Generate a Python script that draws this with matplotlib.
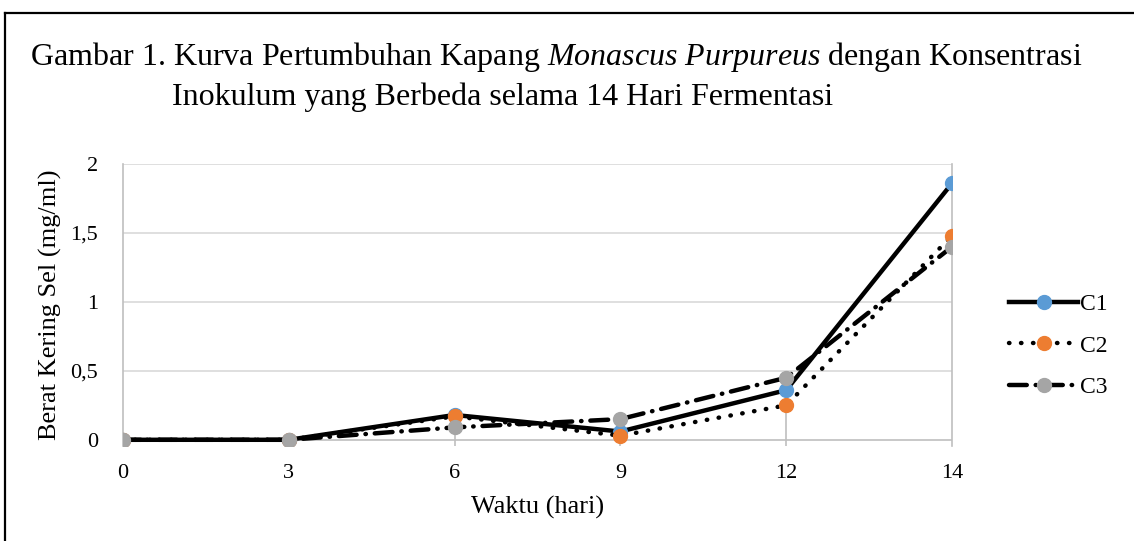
import numpy as np
import matplotlib
matplotlib.use("Agg")
import matplotlib.pyplot as plt
from matplotlib.lines import Line2D

plt.rcParams['font.family'] = ['Liberation Serif', 'DejaVu Serif']
plt.rcParams['mathtext.fontset'] = 'custom'
plt.rcParams['mathtext.rm'] = 'Liberation Serif'
plt.rcParams['mathtext.it'] = 'Liberation Serif:italic'

days = ['0', '3', '6', '9', '12', '14']
c1 = [0, 0, 0.18, 0.06, 0.36, 1.86]
c2 = [0, 0, 0.17, 0.03, 0.25, 1.48]
c3 = [0, 0, 0.09, 0.15, 0.45, 1.40]
yticks = [0, 0.5, 1, 1.5, 2]
ytick_labels = ['0', '0,5', '1', '1,5', '2']

W, H = 1134, 541
fig = plt.figure(figsize=(W / 100, H / 100), dpi=100)
ax = fig.add_axes([123 / W, 1 - 446 / H, (952 - 123) / W, (446 - 164) / H])

x = np.arange(len(days))
ymin = -0.045

# grid and drop lines
for v in yticks:
    ax.axhline(v, color='#BFBFBF' if v == 0 else '#D9D9D9', lw=1.2, zorder=0)
tops = np.max([c1, c2, c3], axis=0)
for xi, t in zip(x[1:-1], tops[1:-1]):
    if t > 0:
        ax.vlines(xi, ymin, t, color='#BFBFBF', lw=1.2, zorder=0)

ax.plot(x, c1, color='black', lw=3.2, marker='o', ms=10,
        mfc='#5B9BD5', mec='#5B9BD5', label='C1', zorder=3)
ax.plot(x, c2, color='black', lw=3.2, ls=(0, (0.1, 2.6)), dash_capstyle='round',
        marker='o', ms=10, mfc='#ED7D31', mec='#ED7D31', label='C2', zorder=4)
ax.plot(x, c3, color='black', lw=3.2, ls=(0, (4, 2, 0.1, 2)), dash_capstyle='round',
        marker='o', ms=10, mfc='#A5A5A5', mec='#A5A5A5', label='C3', zorder=5)

ax.set_xlim(0, len(days) - 1)
ax.set_ylim(ymin, 2)
ax.set_xticks(x)
ax.set_xticklabels(days, fontsize=16)
ax.set_yticks(yticks)
ax.set_yticklabels(ytick_labels, fontsize=16)
ax.tick_params(length=0, pad=13)
ax.tick_params(axis='y', pad=18)
for s in ['top', 'bottom']:
    ax.spines[s].set_visible(False)
for s in ['left', 'right']:
    ax.spines[s].set_color('#BFBFBF')
    ax.spines[s].set_linewidth(1.2)

ax.set_xlabel('Waktu (hari)', fontsize=19, labelpad=9)
ax.set_ylabel('Berat Kering Sel (mg/ml)', fontsize=19, labelpad=6)

ax.legend(loc='center left', bbox_to_anchor=(997 / W, 1 - 346 / H),
          bbox_transform=fig.transFigure, frameon=False, fontsize=17,
          handlelength=2.95, handletextpad=0.05, labelspacing=0.85, borderpad=0)

fig.text(30 / W, 1 - 57 / H,
         r'Gambar 1. Kurva Pertumbuhan Kapang $\mathit{Monascus\ Purpureus}$ dengan Konsentrasi',
         fontsize=23, va='center', ha='left')
fig.text(172 / W, 1 - 97 / H, 'Inokulum yang Berbeda selama 14 Hari Fermentasi',
         fontsize=23, va='center', ha='left')

# page frame
fig.add_artist(Line2D([5 / W, 5 / W], [0, 1 - 13 / H], color='black', lw=1.6))
fig.add_artist(Line2D([5 / W, 1], [1 - 13 / H, 1 - 13 / H], color='black', lw=1.6))

fig.savefig('out.png', dpi=100)
